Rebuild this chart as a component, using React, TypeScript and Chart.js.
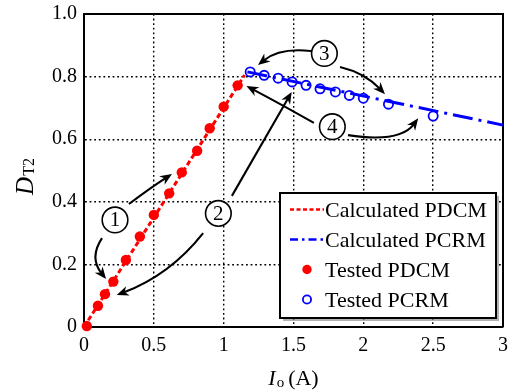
import React, { useEffect, useRef } from "react";
import { Chart, registerables } from "chart.js";

Chart.register(...registerables);

const FONT = "'Liberation Serif', 'Times New Roman', serif";

// ---- axis ticks ----
const xTicks = [0, 0.5, 1, 1.5, 2, 2.5, 3];
const xTickLabels = ["0", "0.5", "1", "1.5", "2", "2.5", "3"];
const yTicks = [0, 0.2, 0.4, 0.6, 0.8, 1.0];
const yTickLabels = ["0", "0.2", "0.4", "0.6", "0.8", "1.0"];

// ---- series ----
const seriesNames = ["Calculated PDCM", "Calculated PCRM", "Tested PDCM", "Tested PCRM"];

const calcPdcmX = [0, 1.15];
const calcPdcmY = [0, 0.805];
const calcPcrmX = [1.17, 3.0];
const calcPcrmY = [0.815, 0.645];

const testPdcmX = [0.02, 0.1, 0.15, 0.21, 0.3, 0.4, 0.5, 0.61, 0.7, 0.81, 0.9, 1.0, 1.1];
const testPdcmY = [0.003, 0.068, 0.105, 0.145, 0.214, 0.289, 0.358, 0.427, 0.494, 0.563, 0.635, 0.704, 0.772];
const testPcrmX = [1.19, 1.29, 1.39, 1.49, 1.59, 1.69, 1.8, 1.9, 2.0, 2.18, 2.5];
const testPcrmY = [0.815, 0.804, 0.795, 0.783, 0.772, 0.761, 0.751, 0.74, 0.731, 0.712, 0.674];

// ---- annotations (data units) ----
const markerLabels = ["1", "2", "3", "4"];
const markerX = [0.222, 0.962, 1.721, 1.778];
const markerY = [0.342, 0.363, 0.874, 0.64];

const arrowX0 = [0.322, 0.129, 0.853, 1.059, 1.719, 1.833, 1.646, 1.89];
const arrowY0 = [0.393, 0.284, 0.3, 0.419, 0.875, 0.831, 0.652, 0.613];
const arrowCX = [0.473, 0.036, 0.616, 1.289, 1.425, 2.012, 1.41, 2.262];
const arrowCY = [0.444, 0.222, 0.166, 0.597, 0.901, 0.812, 0.712, 0.588];
const arrowX1 = [0.63, 0.158, 0.234, 1.487, 1.246, 2.155, 1.163, 2.393];
const arrowY1 = [0.489, 0.153, 0.102, 0.751, 0.837, 0.744, 0.77, 0.667];

const pts = (xs: number[], ys: number[]) => xs.map((x, i) => ({ x, y: ys[i] }));

const legendDash = [[4, 2.5], [8, 4, 2.5, 4], null, null];

function drawArrow(ctx: CanvasRenderingContext2D, x0: number, y0: number, cx: number, cy: number, x1: number, y1: number) {
  const ang = Math.atan2(y1 - cy, x1 - cx);
  const cos = Math.cos(ang), sin = Math.sin(ang);
  const len = 12, hw = 5;
  const bx = x1 - cos * len * 0.6, by = y1 - sin * len * 0.6;
  ctx.beginPath();
  ctx.moveTo(x0, y0);
  ctx.quadraticCurveTo(cx, cy, bx, by);
  ctx.stroke();
  ctx.beginPath();
  ctx.moveTo(x1, y1);
  ctx.lineTo(x1 - cos * len + sin * hw, y1 - sin * len - cos * hw);
  ctx.lineTo(x1 - cos * len * 0.7, y1 - sin * len * 0.7);
  ctx.lineTo(x1 - cos * len - sin * hw, y1 - sin * len + cos * hw);
  ctx.closePath();
  ctx.fill();
}

const decorPlugin = {
  id: "decor",
  beforeDatasetsDraw(chart: any) {
    const { ctx, chartArea: a } = chart;
    ctx.save();
    ctx.strokeStyle = "#000";
    ctx.lineWidth = 2;
    ctx.beginPath();
    ctx.moveTo(a.left, a.top);
    ctx.lineTo(a.right, a.top);
    ctx.lineTo(a.right, a.bottom);
    ctx.stroke();
    ctx.restore();
  },
  afterDatasetsDraw(chart: any) {
    const { ctx, chartArea: a } = chart;
    const xs = chart.scales.x, ys = chart.scales.y;
    const px = (v: number) => xs.getPixelForValue(v);
    const py = (v: number) => ys.getPixelForValue(v);
    ctx.save();
    // arrows
    ctx.strokeStyle = "#000";
    ctx.fillStyle = "#000";
    ctx.lineWidth = 2.1;
    ctx.setLineDash([]);
    for (let i = 0; i < arrowX0.length; i++) {
      drawArrow(ctx, px(arrowX0[i]), py(arrowY0[i]), px(arrowCX[i]), py(arrowCY[i]), px(arrowX1[i]), py(arrowY1[i]));
    }
    // circled numbers
    for (let i = 0; i < markerLabels.length; i++) {
      const cx = px(markerX[i]), cy = py(markerY[i]);
      ctx.beginPath();
      ctx.arc(cx, cy, 12.8, 0, Math.PI * 2);
      ctx.fillStyle = "#fff";
      ctx.fill();
      ctx.lineWidth = 1.6;
      ctx.strokeStyle = "#000";
      ctx.stroke();
      ctx.fillStyle = "#000";
      ctx.font = `21px ${FONT}`;
      ctx.textAlign = "center";
      ctx.textBaseline = "middle";
      ctx.fillText(markerLabels[i], cx, cy + 1);
    }

    // legend
    const lx = a.right - 223, ly = a.bottom - 134, lw = 216, lh = 125;
    ctx.fillStyle = "rgba(0,0,0,0.3)";
    ctx.fillRect(lx + 3, ly + 3, lw, lh);
    ctx.fillStyle = "#fff";
    ctx.fillRect(lx, ly, lw, lh);
    ctx.lineWidth = 2;
    ctx.strokeStyle = "#000";
    ctx.strokeRect(lx, ly, lw, lh);
    const dsets = chart.data.datasets;
    for (let i = 0; i < dsets.length; i++) {
      const d = dsets[i];
      const base = ly + 24 + i * 30;
      const sy = base - 7.5;
      if (d.type === "line") {
        ctx.save();
        ctx.strokeStyle = d.borderColor;
        ctx.lineWidth = 2.5;
        ctx.setLineDash(legendDash[i] || []);
        ctx.beginPath();
        ctx.moveTo(lx + 10, sy);
        ctx.lineTo(lx + 44, sy);
        ctx.stroke();
        ctx.restore();
      } else {
        ctx.beginPath();
        ctx.arc(lx + 27, sy, d.pointRadius - 0.5, 0, Math.PI * 2);
        ctx.fillStyle = d.backgroundColor;
        ctx.fill();
        if (d.borderWidth > 0) {
          ctx.lineWidth = d.borderWidth;
          ctx.strokeStyle = d.borderColor;
          ctx.stroke();
        }
      }
      ctx.fillStyle = "#000";
      ctx.font = `22px ${FONT}`;
      ctx.textAlign = "left";
      ctx.textBaseline = "alphabetic";
      ctx.fillText(d.label, lx + 45, base);
    }

    // x title: I_o (A)
    ctx.fillStyle = "#000";
    ctx.textAlign = "left";
    ctx.textBaseline = "alphabetic";
    const fMain = `22px ${FONT}`, fItal = `italic 22px ${FONT}`, fSub = `15px ${FONT}`;
    ctx.font = fItal; const wI = ctx.measureText("I").width;
    ctx.font = fSub; const wo = ctx.measureText("o").width;
    ctx.font = fMain; const wA = ctx.measureText("(A)").width;
    const gap = 4;
    const total = wI + 1 + wo + gap + wA;
    let tx = (a.left + a.right) / 2 - total / 2;
    const tb = a.bottom + 58;
    ctx.font = fItal; ctx.fillText("I", tx, tb); tx += wI + 1;
    ctx.font = fSub; ctx.fillText("o", tx, tb + 2); tx += wo + gap;
    ctx.font = fMain; ctx.fillText("(A)", tx, tb);

    // y title: D_T2
    ctx.save();
    ctx.translate(33, 0);
    ctx.rotate(-Math.PI / 2);
    const fD = `italic 25px ${FONT}`, fT = `16px ${FONT}`;
    ctx.font = fD; const wD = ctx.measureText("D").width;
    ctx.font = fT; const wT = ctx.measureText("T2").width;
    const ytot = wD + 1 + wT;
    const cyc = (a.top + a.bottom) / 2 + 6;
    let lxp = -cyc - ytot / 2;
    ctx.font = fD; ctx.fillText("D", lxp, 0); lxp += wD + 1;
    ctx.font = fT; ctx.fillText("T2", lxp, 1);
    ctx.restore();

    ctx.restore();
  },
};

export default function App() {
  const ref = useRef<HTMLCanvasElement | null>(null);
  useEffect(() => {
    if (!ref.current) return;
    const chart = new Chart(ref.current, {
      type: "scatter",
      data: {
        datasets: [
          {
            type: "line",
            label: seriesNames[0],
            data: pts(calcPdcmX, calcPdcmY),
            borderColor: "#ff0000",
            borderWidth: 3,
            borderDash: [5, 3],
            pointRadius: 0,
            fill: false,
            order: 0,
            clip: false,
          },
          {
            type: "line",
            label: seriesNames[1],
            data: pts(calcPcrmX, calcPcrmY),
            borderColor: "#0000ff",
            borderWidth: 3,
            borderDash: [20, 6, 3, 6],
            pointRadius: 0,
            fill: false,
            order: 0,
            clip: false,
          },
          {
            type: "scatter",
            label: seriesNames[2],
            data: pts(testPdcmX, testPdcmY),
            backgroundColor: "#ff0000",
            borderColor: "#ff0000",
            borderWidth: 0,
            pointRadius: 5.2,
            order: 1,
            clip: false,
          },
          {
            type: "scatter",
            label: seriesNames[3],
            data: pts(testPcrmX, testPcrmY),
            backgroundColor: "#ffffff",
            borderColor: "#0000ff",
            borderWidth: 1.8,
            pointRadius: 4.6,
            order: 1,
            clip: false,
          },
        ] as any,
      },
      options: {
        animation: false,
        responsive: false,
        events: [],
        layout: { padding: { top: 14, right: 19, left: 0, bottom: 0 } },
        plugins: { legend: { display: false }, tooltip: { enabled: false }, title: { display: false } },
        scales: {
          x: {
            type: "linear",
            min: 0,
            max: 3,
            afterBuildTicks: (s: any) => {
              s.ticks = xTicks.map((v) => ({ value: v }));
            },
            afterFit: (s: any) => {
              s.height = 64;
              s.paddingLeft = 0;
              s.paddingRight = 0;
              s.paddingTop = 0;
              s.paddingBottom = 0;
            },
            ticks: {
              callback: (_v: any, i: number) => xTickLabels[i],
              font: { family: FONT, size: 20 },
              color: "#000",
              padding: 7,
              maxRotation: 0,
              autoSkip: false,
            },
            grid: { color: "#000", lineWidth: 1.4, drawTicks: false },
            border: { display: true, color: "#000", width: 2, dash: [1.8, 2.8] },
          },
          y: {
            type: "linear",
            min: 0,
            max: 1,
            afterBuildTicks: (s: any) => {
              s.ticks = yTicks.map((v) => ({ value: v }));
            },
            afterFit: (s: any) => {
              s.width = 84;
              s.paddingLeft = 0;
              s.paddingRight = 0;
              s.paddingTop = 0;
              s.paddingBottom = 0;
            },
            ticks: {
              callback: (_v: any, i: number) => yTickLabels[i],
              font: { family: FONT, size: 20 },
              color: "#000",
              padding: 7,
              autoSkip: false,
            },
            grid: { color: "#000", lineWidth: 1.4, drawTicks: false },
            border: { display: true, color: "#000", width: 2, dash: [1.8, 2.8] },
          },
        },
      } as any,
      plugins: [decorPlugin],
    });
    return () => chart.destroy();
  }, []);
  return (
    <div style={{ position: "absolute", left: 0, top: 0, width: 522, height: 391, background: "#fff" }}>
      <canvas ref={ref} width={522} height={391} style={{ display: "block" }} />
    </div>
  );
}
